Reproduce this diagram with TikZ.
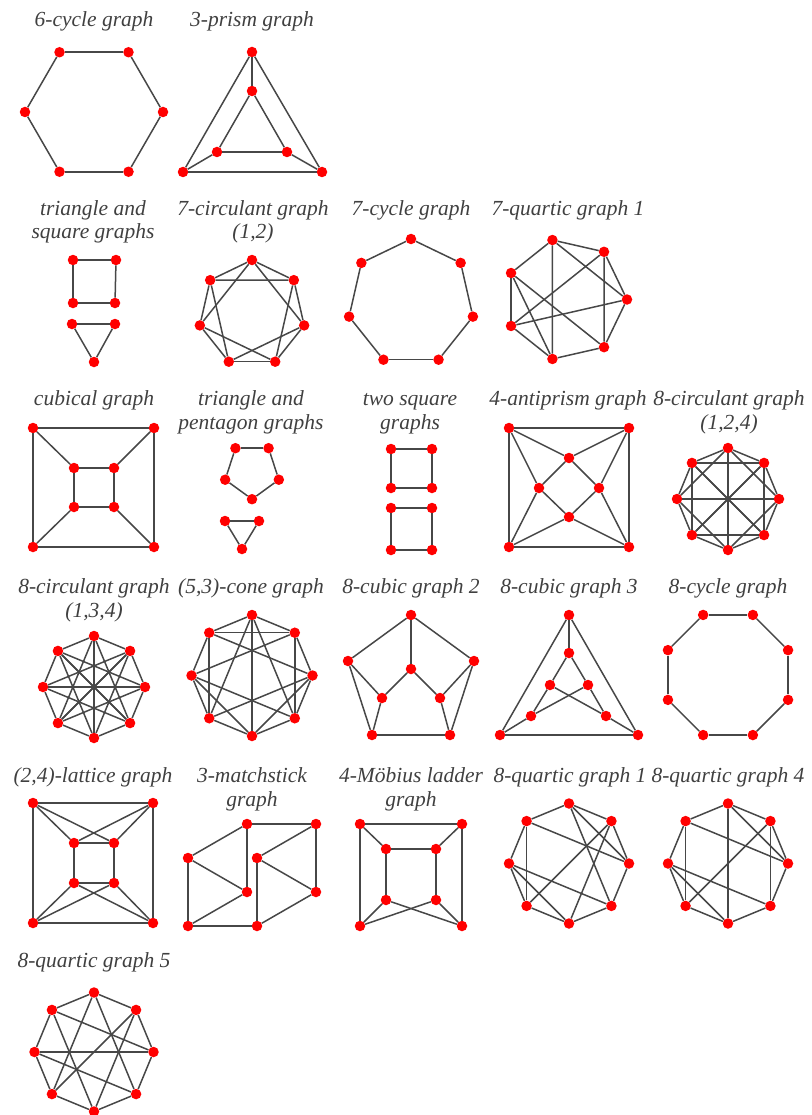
\documentclass[tikz,border=0pt]{standalone}
\usepackage{fontspec}
\setmainfont{Liberation Serif}
\usetikzlibrary{calc}

\tikzset{
  vtx/.style={circle, fill=red, inner sep=0pt, minimum size=10.5pt},
  edge/.style={draw=black!72, line width=1.5pt},
  title/.style={anchor=base, align=center, text=black!75, font=\itshape\fontsize{21.5}{24}\selectfont},
}

\begin{document}
\begin{tikzpicture}[x=1pt, y=-1pt]
  \useasboundingbox (0,0) rectangle (811,1115);

  % 6-cycle graph
  \node[title] (t1) at (94,27) {6-cycle graph};
  \begin{scope}[shift={(94,112)}]
    \foreach \i in {0,...,5} \node[vtx] (hx\i) at (-120+60*\i:69) {};
  \end{scope}
  \foreach \i in {0,...,5}{\pgfmathtruncatemacro\j{mod(\i+1,6)}\draw[edge] (hx\i) -- (hx\j);}

  % 3-prism graph
  \node[title] (t2) at (252,27) {3-prism graph};
  \node[vtx] (pr0) at (252,52) {};
  \node[vtx] (pr1) at (322,172) {};
  \node[vtx] (pr2) at (183,172) {};
  \node[vtx] (pr3) at (252,91) {};
  \node[vtx] (pr4) at (287,152) {};
  \node[vtx] (pr5) at (217,152) {};
  \foreach \a/\b in {0/1,1/2,2/0,3/4,4/5,5/3,0/3,1/4,2/5} \draw[edge] (pr\a) -- (pr\b);

  % triangle and square graphs
  \node[title] (t3) at (93,239) {triangle and\\square graphs};
  \node[vtx] (ts0) at (73,260) {};
  \node[vtx] (ts1) at (116,260) {};
  \node[vtx] (ts2) at (115,303) {};
  \node[vtx] (ts3) at (73,303) {};
  \node[vtx] (ts4) at (72,324) {};
  \node[vtx] (ts5) at (115,324) {};
  \node[vtx] (ts6) at (94,362) {};
  \foreach \a/\b in {0/1,1/2,2/3,3/0,4/5,5/6,6/4} \draw[edge] (ts\a) -- (ts\b);

  % 7-circulant graph (1,2)
  \node[title] (t4) at (253,239) {7-circulant graph\\(1,2)};
  \begin{scope}[shift={(252,313.5)}]
    \foreach \i in {0,...,6} \node[vtx] (ci\i) at (-90+\i*360/7:53.5) {};
  \end{scope}
  \foreach \s in {1,2}{\foreach \i in {0,...,6}{\pgfmathtruncatemacro\j{mod(\i+\s,7)}\draw[edge] (ci\i) -- (ci\j);}}

  % 7-cycle graph
  \node[title] (t5) at (411,216) {7-cycle graph};
  \begin{scope}[shift={(411,302.5)}]
    \foreach \i in {0,...,6} \node[vtx] (cy\i) at (-90+\i*360/7:63.5) {};
  \end{scope}
  \foreach \i in {0,...,6}{\pgfmathtruncatemacro\j{mod(\i+1,7)}\draw[edge] (cy\i) -- (cy\j);}

  % 7-quartic graph 1
  \node[title] (t6) at (568,216) {7-quartic graph 1};
  \begin{scope}[shift={(566,299.5)}]
    \foreach \i in {0,...,6} \node[vtx] (qa\i) at (-\i*360/7:61) {};
  \end{scope}
  \foreach \i in {0,...,6}{\pgfmathtruncatemacro\j{mod(\i+1,7)}\draw[edge] (qa\i) -- (qa\j);}
  \foreach \a/\b in {0/2,0/4,1/4,1/6,2/5,3/5,3/6} \draw[edge] (qa\a) -- (qa\b);

  % cubical graph
  \node[title] (t7) at (94,405) {cubical graph};
  \node[vtx] (cu0) at (33,428) {};
  \node[vtx] (cu1) at (154,428) {};
  \node[vtx] (cu2) at (154,547) {};
  \node[vtx] (cu3) at (33,547) {};
  \node[vtx] (cu4) at (74,468) {};
  \node[vtx] (cu5) at (114,468) {};
  \node[vtx] (cu6) at (114,507) {};
  \node[vtx] (cu7) at (74,507) {};
  \foreach \a/\b in {0/1,1/2,2/3,3/0,4/5,5/6,6/7,7/4,0/4,1/5,2/6,3/7} \draw[edge] (cu\a) -- (cu\b);

  % triangle and pentagon graphs
  \node[title] (t8) at (251,429) {triangle and\\pentagon graphs};
  \begin{scope}[shift={(252,471)}]
    \foreach \i in {0,...,4} \node[vtx] (tp\i) at (-126+72*\i:28.2) {};
  \end{scope}
  \node[vtx] (tp5) at (225,521) {};
  \node[vtx] (tp6) at (259,521) {};
  \node[vtx] (tp7) at (242,549) {};
  \foreach \a/\b in {0/1,1/2,2/3,3/4,4/0,5/6,6/7,7/5} \draw[edge] (tp\a) -- (tp\b);

  % two square graphs
  \node[title] (t9) at (410,429) {two square\\graphs};
  \node[vtx] (sq0) at (391,449) {};
  \node[vtx] (sq1) at (432,449) {};
  \node[vtx] (sq2) at (432,488) {};
  \node[vtx] (sq3) at (391,488) {};
  \node[vtx] (sq4) at (391,508) {};
  \node[vtx] (sq5) at (432,508) {};
  \node[vtx] (sq6) at (432,550) {};
  \node[vtx] (sq7) at (391,550) {};
  \foreach \a/\b in {0/1,1/2,2/3,3/0,4/5,5/6,6/7,7/4} \draw[edge] (sq\a) -- (sq\b);

  % 4-antiprism graph
  \node[title] (t10) at (568,405) {4-antiprism graph};
  \node[vtx] (ap0) at (509,428) {};
  \node[vtx] (ap1) at (629,428) {};
  \node[vtx] (ap2) at (629,547) {};
  \node[vtx] (ap3) at (509,547) {};
  \node[vtx] (ap4) at (569,458) {};
  \node[vtx] (ap5) at (599,488) {};
  \node[vtx] (ap6) at (569,517) {};
  \node[vtx] (ap7) at (539,488) {};
  \foreach \a/\b in {0/1,1/2,2/3,3/0,4/5,5/6,6/7,7/4,0/4,0/7,1/4,1/5,2/5,2/6,3/6,3/7} \draw[edge] (ap\a) -- (ap\b);

  % 8-circulant graph (1,2,4)
  \node[title] (t11) at (729,429) {8-circulant graph\\(1,2,4)};
  \begin{scope}[shift={(728,499)}]
    \foreach \i in {0,...,7} \node[vtx] (cb\i) at (-90+45*\i:51) {};
  \end{scope}
  \foreach \s in {1,2,4}{\foreach \i in {0,...,7}{\pgfmathtruncatemacro\j{mod(\i+\s,8)}\draw[edge] (cb\i) -- (cb\j);}}

  % 8-circulant graph (1,3,4)
  \node[title] (t12) at (94,617) {8-circulant graph\\(1,3,4)};
  \begin{scope}[shift={(94,687)}]
    \foreach \i in {0,...,7} \node[vtx] (cc\i) at (-90+45*\i:51) {};
  \end{scope}
  \foreach \s in {1,3,4}{\foreach \i in {0,...,7}{\pgfmathtruncatemacro\j{mod(\i+\s,8)}\draw[edge] (cc\i) -- (cc\j);}}

  % (5,3)-cone graph
  \node[title] (t13) at (251,593) {(5,3)-cone graph};
  \begin{scope}[shift={(252,675.5)}]
    \foreach \i in {0,...,7} \node[vtx] (co\i) at (-90+45*\i:60.5) {};
  \end{scope}
  \foreach \i in {0,...,7}{\pgfmathtruncatemacro\j{mod(\i+1,8)}\draw[edge] (co\i) -- (co\j);}
  \foreach \a/\b in {0/3,0/4,0/5,1/3,1/6,1/7,2/4,2/5,2/7,3/6,4/6,5/7} \draw[edge] (co\a) -- (co\b);

  % 8-cubic graph 2
  \node[title] (t14) at (411,593) {8-cubic graph 2};
  \node[vtx] (ea0) at (411,615) {};
  \node[vtx] (ea1) at (348,661) {};
  \node[vtx] (ea2) at (474,661) {};
  \node[vtx] (ea3) at (411,669) {};
  \node[vtx] (ea4) at (382,698) {};
  \node[vtx] (ea5) at (440,698) {};
  \node[vtx] (ea6) at (372,735) {};
  \node[vtx] (ea7) at (450,735) {};
  \foreach \a/\b in {0/1,0/2,0/3,1/4,1/6,2/5,2/7,3/4,3/5,4/6,5/7,6/7} \draw[edge] (ea\a) -- (ea\b);

  % 8-cubic graph 3
  \node[title] (t15) at (569,593) {8-cubic graph 3};
  \node[vtx] (eb0) at (569,615) {};
  \node[vtx] (eb1) at (569,653) {};
  \node[vtx] (eb2) at (550,685) {};
  \node[vtx] (eb3) at (588,685) {};
  \node[vtx] (eb4) at (531,716) {};
  \node[vtx] (eb5) at (606,716) {};
  \node[vtx] (eb6) at (500,735) {};
  \node[vtx] (eb7) at (638,735) {};
  \foreach \a/\b in {0/6,0/7,6/7,0/1,1/2,1/3,2/4,2/5,3/4,3/5,4/6,5/7} \draw[edge] (eb\a) -- (eb\b);

  % 8-cycle graph
  \node[title] (t16) at (728,593) {8-cycle graph};
  \begin{scope}[shift={(728,675)}]
    \foreach \i in {0,...,7} \node[vtx] (oc\i) at (-67.5+45*\i:65) {};
  \end{scope}
  \foreach \i in {0,...,7}{\pgfmathtruncatemacro\j{mod(\i+1,8)}\draw[edge] (oc\i) -- (oc\j);}

  % (2,4)-lattice graph
  \node[title] (t17) at (93,782) {(2,4)-lattice graph};
  \node[vtx] (la0) at (33,803) {};
  \node[vtx] (la1) at (153,803) {};
  \node[vtx] (la2) at (153,923) {};
  \node[vtx] (la3) at (33,923) {};
  \node[vtx] (la4) at (74,843) {};
  \node[vtx] (la5) at (114,843) {};
  \node[vtx] (la6) at (114,883) {};
  \node[vtx] (la7) at (74,883) {};
  \foreach \a/\b in {0/1,1/2,2/3,3/0,4/5,5/6,6/7,7/4,0/4,0/5,1/5,1/4,3/7,3/6,2/6,2/7} \draw[edge] (la\a) -- (la\b);

  % 3-matchstick graph
  \node[title] (t18) at (252,806) {3-matchstick\\graph};
  \node[vtx] (ma0) at (247,824) {};
  \node[vtx] (ma1) at (316,824) {};
  \node[vtx] (ma2) at (188,858) {};
  \node[vtx] (ma3) at (257,858) {};
  \node[vtx] (ma4) at (247,892) {};
  \node[vtx] (ma5) at (316,892) {};
  \node[vtx] (ma6) at (188,926) {};
  \node[vtx] (ma7) at (257,926) {};
  \foreach \a/\b in {0/1,0/2,0/4,2/4,2/6,6/4,6/7,7/3,3/1,3/5,1/5,5/7} \draw[edge] (ma\a) -- (ma\b);

  % 4-Moebius ladder graph
  \node[title] (t19) at (411,806) {4-Möbius ladder\\graph};
  \node[vtx] (mo0) at (360,824) {};
  \node[vtx] (mo1) at (462,824) {};
  \node[vtx] (mo2) at (462,926) {};
  \node[vtx] (mo3) at (360,926) {};
  \node[vtx] (mo4) at (386,849) {};
  \node[vtx] (mo5) at (436,849) {};
  \node[vtx] (mo6) at (436,900) {};
  \node[vtx] (mo7) at (386,900) {};
  \foreach \a/\b in {0/1,0/3,1/2,4/5,4/7,5/6,0/4,1/5,3/7,3/6,2/6,2/7} \draw[edge] (mo\a) -- (mo\b);

  % 8-quartic graph 1
  \node[title] (t20) at (570,782) {8-quartic graph 1};
  \begin{scope}[shift={(569,863.5)}]
    \foreach \i in {0,...,7} \node[vtx] (qb\i) at (-90+45*\i:60) {};
  \end{scope}
  \foreach \i in {0,...,7}{\pgfmathtruncatemacro\j{mod(\i+1,8)}\draw[edge] (qb\i) -- (qb\j);}
  \foreach \a/\b in {7/5,7/2,1/5,1/4,0/2,0/3,6/3,6/4} \draw[edge] (qb\a) -- (qb\b);

  % 8-quartic graph 4
  \node[title] (t21) at (728,782) {8-quartic graph 4};
  \begin{scope}[shift={(728,863.5)}]
    \foreach \i in {0,...,7} \node[vtx] (qc\i) at (-90+45*\i:60) {};
  \end{scope}
  \foreach \i in {0,...,7}{\pgfmathtruncatemacro\j{mod(\i+1,8)}\draw[edge] (qc\i) -- (qc\j);}
  \foreach \a/\b in {0/4,7/5,1/3,7/2,1/5,6/3,6/4,0/2} \draw[edge] (qc\a) -- (qc\b);

  % 8-quartic graph 5
  \node[title] (t22) at (94,967) {8-quartic graph 5};
  \begin{scope}[shift={(94,1052)}]
    \foreach \i in {0,...,7} \node[vtx] (qd\i) at (-90+45*\i:59.5) {};
  \end{scope}
  \foreach \i in {0,...,7}{\pgfmathtruncatemacro\j{mod(\i+1,8)}\draw[edge] (qd\i) -- (qd\j);}
  \foreach \a/\b in {6/2,7/2,6/3,0/3,0/5,1/4,1/5,7/4} \draw[edge] (qd\a) -- (qd\b);
\end{tikzpicture}
\end{document}
